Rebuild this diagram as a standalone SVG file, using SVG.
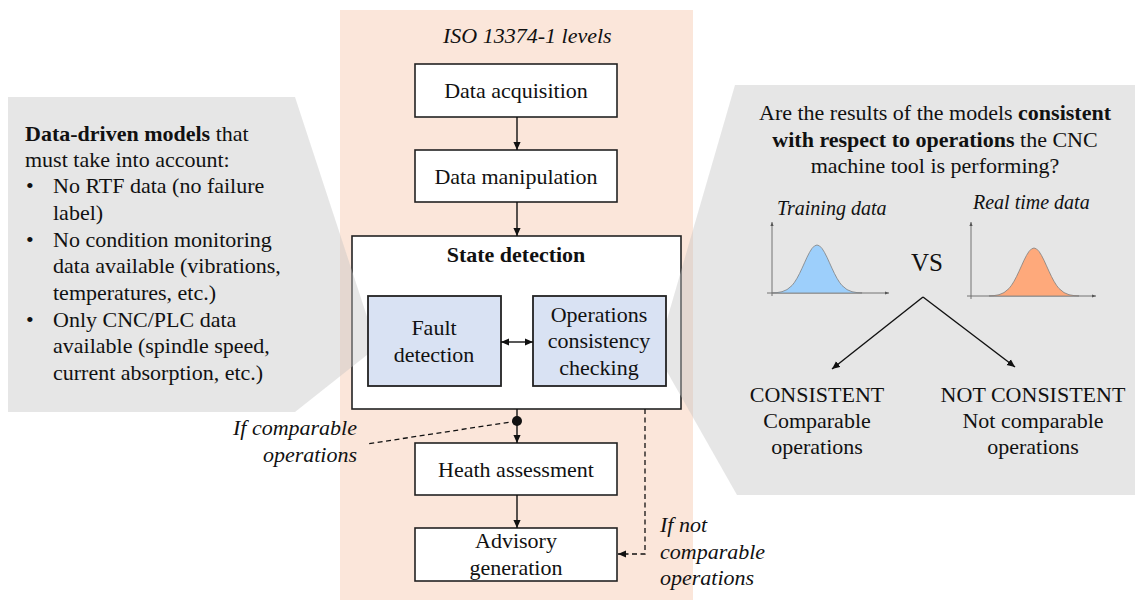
<svg xmlns="http://www.w3.org/2000/svg" xmlns:xlink="http://www.w3.org/1999/xlink" width="1135" height="600" viewBox="0 0 1135 600">
  <style>
    text { font-family: "Liberation Serif", "Times New Roman", serif; font-size: 22px; fill: #111; }
    .it { font-style: italic; }
    .b { font-weight: bold; }
    .mid { text-anchor: middle; }
    .box { fill: #ffffff; stroke: #222; stroke-width: 1.6; }
    .sub { fill: #d9e2f3; stroke: #222; stroke-width: 1.8; }
    .callout { fill: #c4c4c4; fill-opacity: 0.42; }
    .link { fill: none; stroke: #111; stroke-width: 1.4; }
    .dash { fill: none; stroke: #111; stroke-width: 1.3; stroke-dasharray: 5 3.5; }
    .axis { fill: none; stroke: #666; stroke-width: 0.9; }
    .bell { stroke: #808080; stroke-width: 0.8; stroke-linejoin: round; }
  </style>
  <defs>
    <marker id="arrow" viewBox="0 0 10 10" refX="10" refY="5" markerWidth="8" markerHeight="8" markerUnits="userSpaceOnUse" orient="auto-start-reverse">
      <path d="M0,0.5 L10,5 L0,9.5 Z" fill="#111"/>
    </marker>
    <marker id="tip" viewBox="0 0 10 10" refX="10" refY="5" markerWidth="4" markerHeight="4" markerUnits="userSpaceOnUse" orient="auto">
      <path d="M0,1 L10,5 L0,9 Z" fill="#555"/>
    </marker>
    <!-- bell curve, centred on x=0 with its base on y=0 -->
    <path id="bell" d="M-45,0 L-45,-0.1 L-40,-0.4 L-35,-1.3 L-30,-3.4 L-25,-7.5 L-22.5,-10.7 L-20,-14.7 L-17.5,-19.4 L-15,-24.7 L-12.5,-30.2 L-10,-35.7 L-7.5,-40.6 L-5,-44.6 L-2.5,-47.1 L0,-48 L2.5,-47.1 L5,-44.6 L7.5,-40.6 L10,-35.7 L12.5,-30.2 L15,-24.7 L17.5,-19.4 L20,-14.7 L22.5,-10.7 L25,-7.5 L30,-3.4 L35,-1.3 L40,-0.4 L45,-0.1 L45,0 Z"/>
  </defs>

  <!-- ISO 13374-1 column -->
  <g id="iso-levels">
    <rect x="340" y="10" width="353" height="590" fill="#fbe6da"/>
    <text class="it" x="443" y="43">ISO 13374-1 levels</text>
  </g>

  <g id="data-acquisition">
    <rect class="box" x="415" y="64" width="202" height="53"/>
    <text class="mid" x="516" y="98">Data acquisition</text>
  </g>

  <g id="data-manipulation">
    <rect class="box" x="415" y="150" width="202" height="52"/>
    <text class="mid" x="516" y="184">Data manipulation</text>
  </g>

  <g id="state-detection">
    <rect class="box" x="352" y="236" width="329" height="173"/>
    <text class="mid b" x="516" y="262">State detection</text>
  </g>

  <!-- side panels -->
  <g id="requirements-panel">
    <path class="callout" d="M8,97 L295,97 L377,347 L295,412 L8,412 Z"/>
    <text x="25" y="141"><tspan class="b">Data-driven models</tspan> that</text>
    <text x="25" y="167">must take into account:</text>
    <text x="26" y="193">•</text>
    <text x="53" y="193">No RTF data (no failure</text>
    <text x="53" y="220">label)</text>
    <text x="26" y="247">•</text>
    <text x="53" y="247">No condition monitoring</text>
    <text x="53" y="273">data available (vibrations,</text>
    <text x="53" y="300">temperatures, etc.)</text>
    <text x="26" y="327">•</text>
    <text x="53" y="327">Only CNC/PLC data</text>
    <text x="53" y="353">available (spindle speed,</text>
    <text x="53" y="380">current absorption, etc.)</text>
  </g>

  <g id="consistency-panel">
    <path class="callout" d="M735,85 L1135,85 L1135,495 L737,495 L657,354 Z"/>
    <text class="mid" x="935" y="120">Are the results of the models <tspan class="b">consistent</tspan></text>
    <text class="mid" x="935" y="147"><tspan class="b">with respect to operations</tspan> the CNC</text>
    <text class="mid" x="935" y="173">machine tool is performing?</text>

    <text class="it" x="777" y="215" style="font-size:20px">Training data</text>
    <line class="axis" x1="772" y1="296" x2="772" y2="222" marker-end="url(#tip)"/>
    <line class="axis" x1="767" y1="293" x2="889" y2="293" marker-end="url(#tip)"/>
    <use xlink:href="#bell" x="817" y="293" class="bell" fill="#9dcffb"/>

    <text class="mid" x="927" y="271" style="font-size:25px">VS</text>

    <text class="it" x="973" y="209" style="font-size:20px">Real time data</text>
    <line class="axis" x1="971" y1="299" x2="971" y2="222" marker-end="url(#tip)"/>
    <line class="axis" x1="967" y1="296" x2="1096" y2="296" marker-end="url(#tip)"/>
    <use xlink:href="#bell" x="1034" y="296" class="bell" fill="#fea97b"/>

    <line class="link" x1="923" y1="297" x2="832" y2="369" marker-end="url(#arrow)"/>
    <line class="link" x1="923" y1="297" x2="1015" y2="367" marker-end="url(#arrow)"/>

    <text class="mid" x="817" y="402">CONSISTENT</text>
    <text class="mid" x="817" y="428">Comparable</text>
    <text class="mid" x="817" y="454">operations</text>
    <text class="mid" x="1033" y="402">NOT CONSISTENT</text>
    <text class="mid" x="1033" y="428">Not comparable</text>
    <text class="mid" x="1033" y="454">operations</text>
  </g>

  <g id="fault-detection">
    <rect class="sub" x="368" y="296" width="133" height="90"/>
    <text class="mid" x="434" y="335">Fault</text>
    <text class="mid" x="434" y="362">detection</text>
  </g>

  <g id="operations-consistency">
    <rect class="sub" x="533" y="296" width="133" height="90"/>
    <text class="mid" x="599" y="322">Operations</text>
    <text class="mid" x="599" y="348">consistency</text>
    <text class="mid" x="599" y="375">checking</text>
  </g>

  <g id="health-assessment">
    <rect class="box" x="415" y="443" width="202" height="52"/>
    <text class="mid" x="516" y="477">Heath assessment</text>
  </g>

  <g id="advisory-generation">
    <rect class="box" x="415" y="528" width="202" height="53"/>
    <text class="mid" x="516" y="548">Advisory</text>
    <text class="mid" x="516" y="575">generation</text>
  </g>

  <!-- connectors -->
  <g id="connectors">
    <line class="link" x1="517" y1="117" x2="517" y2="150" marker-end="url(#arrow)"/>
    <line class="link" x1="517" y1="202" x2="517" y2="236" marker-end="url(#arrow)"/>
    <line class="link" x1="501" y1="342" x2="533" y2="342" marker-start="url(#arrow)" marker-end="url(#arrow)"/>
    <line class="link" x1="517" y1="409" x2="517" y2="443" marker-end="url(#arrow)"/>
    <circle cx="517" cy="421" r="5" fill="#111"/>
    <line class="link" x1="517" y1="495" x2="517" y2="528" marker-end="url(#arrow)"/>
    <line class="dash" x1="517" y1="421" x2="367" y2="444"/>
    <path class="dash" d="M645,409 L645,554 L618,554" marker-end="url(#arrow)"/>
    <text class="it" x="357" y="435" text-anchor="end">If comparable</text>
    <text class="it" x="357" y="462" text-anchor="end">operations</text>
    <text class="it" x="660" y="532">If not</text>
    <text class="it" x="660" y="559">comparable</text>
    <text class="it" x="660" y="585">operations</text>
  </g>
</svg>
